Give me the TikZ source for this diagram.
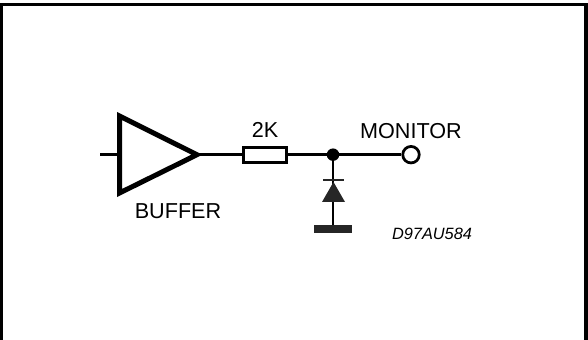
\documentclass[tikz,border=0pt]{standalone}
\usepackage{fontspec}
\setmainfont{Liberation Sans}
\tikzset{
	wire/.style={line width=0.055cm},
	lbl/.style={inner sep=0pt, font=\fontsize{12.3}{14}\selectfont},
}
\begin{document}
\begin{tikzpicture}[x=0.02cm, y=-0.02cm]
	%%%%% START %%%%%
	\useasboundingbox (0, 0) rectangle (588, 340);

	% frame, open at the bottom
	\fill (0, 3.3) rectangle (588, 6);
	\fill (0, 3.3) rectangle (3, 340);
	\fill (584, 3.3) rectangle (588, 340);

	% buffer
	\coordinate (bufin) at (100, 154.7);
	\coordinate (bufleft) at (119.5, 154.7);
	\coordinate (bufout) at (197, 154.7);
	\draw[line width=0.1cm, miter limit=10] (119.5, 116) -- (bufout) -- (119.5, 193) -- cycle;
	\draw[wire] (bufin) -- (bufleft);

	\node[draw, wire, fill=white, minimum width=0.85cm, minimum height=0.3cm, inner sep=0pt] (res) at (265, 154.7) {};
	\node[circle, fill=black, minimum size=0.25cm, inner sep=0pt, outer sep=0pt] (jct) at (333, 154.7) {};
	\node[circle, draw, wire, fill=white, minimum size=0.33cm, inner sep=0pt] (mon) at (411, 154.7) {};
	\node[fill=black!85, minimum width=0.76cm, minimum height=0.16cm, inner sep=0pt, outer sep=0pt] (gnd) at (333, 229) {};

	\draw[wire] (bufout) -- (res);
	\draw[wire] (res) -- (jct);
	\draw[wire] (jct) -- (mon);
	\draw[wire] (jct) -- (gnd);

	% diode
	\fill[black!85] (322, 202) -- (345, 202) -- (333.5, 182) -- cycle;
	\fill[black!85] (323, 179) rectangle (344, 181.5);

	\node[lbl] (lblres) at (265, 130) {2K};
	\node[lbl] (lblmon) at (411, 131) {MONITOR};
	\node[lbl] (lblbuf) at (178, 211) {BUFFER};
	\node[lbl, font=\fontsize{9.3}{11}\selectfont\itshape] (lblcode) at (432, 233.5) {D97AU584};
	%%%%% END %%%%%
\end{tikzpicture}
\end{document}
